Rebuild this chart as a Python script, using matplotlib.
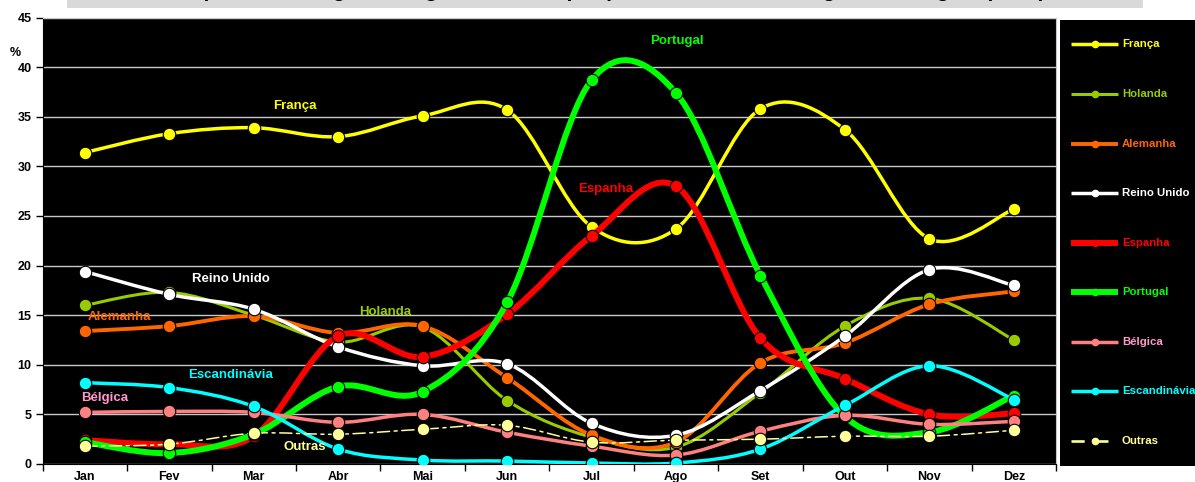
import numpy as np
import matplotlib.pyplot as plt
from matplotlib.path import Path
from matplotlib.patches import PathPatch, Rectangle

meses = ['Jan', 'Fev', 'Mar', 'Abr', 'Mai', 'Jun', 'Jul', 'Ago', 'Set', 'Out', 'Nov', 'Dez']

franca = [31.4, 33.3, 33.9, 33.0, 35.1, 35.7, 23.9, 23.7, 35.8, 33.7, 22.7, 25.7]
holanda = [16.0, 17.3, 15.0, 12.3, 13.8, 6.4, 2.7, 1.7, 7.2, 13.9, 16.7, 12.5]
alemanha = [13.4, 13.9, 14.9, 13.2, 13.9, 8.7, 2.9, 2.2, 10.2, 12.2, 16.1, 17.4]
reino_unido = [19.4, 17.1, 15.6, 11.8, 9.9, 10.1, 4.1, 2.9, 7.4, 12.9, 19.6, 18.0]
espanha = [2.4, 2.0, 2.8, 12.9, 10.8, 15.1, 23.0, 28.0, 12.7, 8.6, 5.0, 5.1]
portugal = [2.2, 1.1, 3.0, 7.8, 7.3, 16.3, 38.7, 37.4, 19.0, 4.8, 3.2, 6.9]
belgica = [5.2, 5.3, 5.2, 4.2, 5.0, 3.2, 1.8, 0.9, 3.3, 4.9, 4.0, 4.3]
escandinavia = [8.2, 7.7, 5.8, 1.5, 0.4, 0.3, 0.1, 0.1, 1.5, 5.9, 9.9, 6.5]
outras = [1.8, 2.0, 3.1, 3.0, 3.5, 3.9, 2.2, 2.4, 2.5, 2.8, 2.8, 3.4]

paises = ['França', 'Holanda', 'Alemanha', 'Reino Unido', 'Espanha',
          'Portugal', 'Bélgica', 'Escandinávia', 'Outras']
series = [franca, holanda, alemanha, reino_unido, espanha,
          portugal, belgica, escandinavia, outras]

# estilo de cada série: cor da linha, cor do texto, espessura, tracejado
cores = ['#ffff00', '#99cc00', '#ff6600', '#ffffff', '#ff0000',
         '#00ff00', '#ff8080', '#00ffff', '#ffff99']
cores_txt = ['#ffff00', '#99cc00', '#ff6600', '#ffffff', '#ff0000',
             '#00ff00', '#ff99cc', '#00ffff', '#ffff99']
espessuras = [2.5, 2.2, 2.8, 2.5, 4.3, 4.3, 2.5, 2.5, 1.1]
tracos = ['-'] * 8 + [(0, (8, 3, 2, 3))]

# posição dos rótulos dentro do gráfico (coordenadas dos dados)
rotulos_pos = [(2.49, 36.1), (3.56, 15.35), (0.41, 14.8), (1.73, 18.65), (6.17, 27.7),
               (7.01, 42.6), (0.24, 6.7), (1.73, 9.0), (2.60, 1.7)]

FONTE = ['Liberation Sans Narrow', 'Liberation Sans', 'DejaVu Sans']


def curva_suave(x, y):
    # spline tipo Catmull-Rom convertida em segmentos Bezier cúbicos
    p = np.column_stack([x, y]).astype(float)
    n = len(p)
    verts = [p[0]]
    codes = [Path.MOVETO]
    for i in range(n - 1):
        p_ant = p[i - 1] if i > 0 else p[i]
        p_seg = p[i + 2] if i + 2 < n else p[i + 1]
        c1 = p[i] + (p[i + 1] - p_ant) / 6.
        c2 = p[i + 1] - (p_seg - p[i]) / 6.
        verts += [c1, c2, p[i + 1]]
        codes += [Path.CURVE4] * 3
    return Path(verts, codes)


W, H = 1195, 482
fig = plt.figure(figsize=(W / 100, H / 100), dpi=100)
fig.patch.set_facecolor('white')

# faixa do título (o texto fica quase todo acima da margem)
fig.patches.append(Rectangle((67 / W, 1 - 8 / H), (1143 - 67) / W, 8 / H,
                             transform=fig.transFigure, facecolor='#d9d9d9',
                             edgecolor='none'))
fig.text(605 / W, 1 + 3 / H,
         'Hóspedes estrangeiros segundo o mês, por país de residência, segundo a origem (2007)',
         ha='center', va='baseline', fontsize=15, fontweight='bold', color='black',
         family=['Liberation Sans', 'DejaVu Sans'])

ax = fig.add_axes([42.7 / W, 1 - 464 / H, (1056 - 42.7) / W, (464 - 17.6) / H])
ax.set_facecolor('black')

x = np.arange(len(meses))
for i, (nome, y) in enumerate(zip(paises, series)):
    z = 3 + i
    patch = PathPatch(curva_suave(x, y), facecolor='none', edgecolor=cores[i],
                      lw=espessuras[i], linestyle=tracos[i], capstyle='round',
                      joinstyle='round', zorder=z)
    ax.add_patch(patch)
    ax.plot(x, y, linestyle='none', marker='o', ms=9, mfc=cores[i],
            mec='black', mew=0.8, zorder=z + 0.5)
    ax.text(rotulos_pos[i][0], rotulos_pos[i][1], nome, color=cores_txt[i],
            ha='center', va='center', fontsize=9.5, fontweight='bold',
            family=FONTE, zorder=20)

ax.set_xlim(-0.5, 11.5)
ax.set_ylim(0, 45)
ax.set_yticks(np.arange(0, 46, 5))
ax.yaxis.grid(True, color='#c8c8c8', lw=1)
ax.set_axisbelow(True)

ax.set_xticks(x)
ax.set_xticklabels(meses)
ax.set_xticks(np.arange(-0.5, 12, 1), minor=True)
ax.tick_params(axis='x', which='major', length=0, pad=5)
ax.tick_params(axis='x', which='minor', length=5, width=1, color='black', direction='out')
ax.tick_params(axis='y', length=5, width=1, color='black', direction='out', pad=3)
for lbl in ax.get_xticklabels() + ax.get_yticklabels():
    lbl.set_fontweight('bold')
    lbl.set_fontsize(9)
    lbl.set_family(['Liberation Sans', 'DejaVu Sans'])

ax.spines['left'].set_color('black')
ax.spines['bottom'].set_color('black')
ax.spines['top'].set_color('#c8c8c8')
ax.spines['right'].set_color('#c8c8c8')

fig.text(15 / W, 1 - 53 / H, '%', ha='center', va='center', fontsize=9,
         fontweight='bold', family=['Liberation Sans', 'DejaVu Sans'])

# painel da legenda
lax = fig.add_axes([1060 / W, 1 - 466 / H, (W - 1060) / W, (466 - 20) / H])
lax.set_facecolor('black')
lax.set_xlim(1060, W)
lax.set_ylim(466, 20)
lax.set_xticks([])
lax.set_yticks([])
for s in lax.spines.values():
    s.set_visible(False)

linhas_leg = [44, 94, 144, 193, 243, 292, 342, 391, 441]
for i, nome in enumerate(paises):
    yl = linhas_leg[i]
    lax.plot([1071, 1118], [yl, yl], color=cores[i],
             lw=espessuras[i] + (0.8 if i == 8 else 0),
             linestyle=(0, (5, 4)) if i == 8 else '-', solid_capstyle='butt')
    lax.plot([1094.5], [yl], marker='o', ms=4.5, mfc=cores[i], mec=cores[i],
             linestyle='none')
    lax.text(1122, yl, nome, color=cores_txt[i], ha='left', va='center',
             fontsize=8.2, fontweight='bold', family=FONTE)

fig.savefig('out.png', dpi=100, facecolor='white')
